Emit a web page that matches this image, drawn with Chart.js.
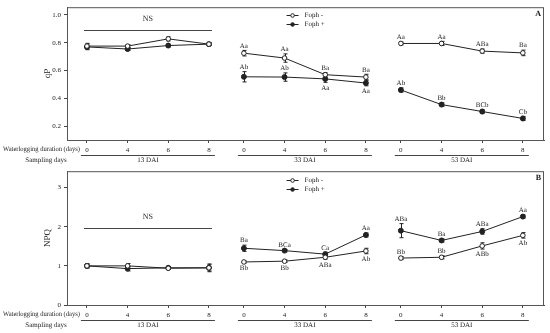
<!DOCTYPE html>
<html>
<head>
<meta charset="utf-8">
<script src="https://cdn.jsdelivr.net/npm/chart.js@4/dist/chart.umd.min.js"></script>
<style>
body{margin:0;background:#fff;}
#wrap{position:relative;width:550px;height:333px;}
canvas{position:absolute;left:0;}
</style>
</head>
<body>
<div id="wrap">
<canvas id="chartA" width="550" height="164" style="top:0"></canvas>
<canvas id="chartB" width="550" height="169" style="top:164px"></canvas>
</div>
<script>
const days = ['0', '4', '6', '8'];
const samplings = ['13 DAI', '33 DAI', '53 DAI'];
const seriesNames = ['Foph -', 'Foph +'];

// panel A: qP
const qpMinus = [[0.776, 0.776, 0.828, 0.79], [0.725, 0.69, 0.57, 0.553], [0.795, 0.795, 0.74, 0.727]];
const qpMinusErr = [[0.02, 0.01, 0.015, 0.01], [0.02, 0.03, 0.015, 0.02], [0.01, 0.015, 0.015, 0.02]];
const qpPlus = [[0.77, 0.755, 0.78, 0.79], [0.555, 0.553, 0.54, 0.51], [0.46, 0.355, 0.305, 0.255]];
const qpPlusErr = [[0.02, 0.01, 0.01, 0.01], [0.037, 0.03, 0.025, 0.02], [0.015, 0.012, 0.015, 0.015]];
const qpMinusLetters = [null, ['Aa', 'Aa', 'Ba', 'Ba'], ['Aa', 'Aa', 'ABa', 'Ba']];
const qpPlusLetters = [null, ['Ab', 'Ab', 'Aa', 'Aa'], ['Ab', 'Bb', 'BCb', 'Cb']];
const qpMinusSide = [null, [1, 1, 1, 1], [1, 1, 1, 1]];
const qpPlusSide = [null, [1, 1, -1, -1], [1, 1, 1, 1]];
const qpTicks = [0.2, 0.4, 0.6, 0.8, 1.0];

// panel B: NPQ
const npqMinus = [[1.0, 1.0, 0.94, 0.95], [1.10, 1.12, 1.22, 1.38], [1.20, 1.22, 1.51, 1.78]];
const npqMinusErr = [[0.05, 0.06, 0.03, 0.1], [0.03, 0.03, 0.05, 0.07], [0.04, 0.04, 0.08, 0.07]];
const npqPlus = [[1.0, 0.93, 0.95, 0.95], [1.45, 1.39, 1.30, 1.79], [1.90, 1.65, 1.88, 2.26]];
const npqPlusErr = [[0.05, 0.06, 0.03, 0.08], [0.08, 0.03, 0.05, 0.05], [0.18, 0.04, 0.07, 0.04]];
const npqMinusLetters = [null, ['Bb', 'Bb', 'ABa', 'Ab'], ['Bb', 'Bb', 'ABb', 'Ab']];
const npqPlusLetters = [null, ['Ba', 'BCa', 'Ca', 'Aa'], ['ABa', 'Ba', 'ABa', 'Aa']];
const npqMinusSide = [null, [-1, -1, -1, -1], [1, 1, -1, -1]];
const npqPlusSide = [null, [1, 1, 1, 1], [1, 1, 1, 1]];
const npqTicks = [0, 1, 2, 3];

const serif = '"Liberation Serif", "DejaVu Serif", serif';
const ink = '#222';
const groupStep = 3.86;
function xPos(g, i) { return g * groupStep + i; }
const xTickVals = [];
samplings.forEach((s, g) => days.forEach((d, i) => xTickVals.push(xPos(g, i))));

function seriesPoints(vals) {
  const pts = [];
  vals.forEach((row, g) => {
    row.forEach((v, i) => pts.push({x: xPos(g, i), y: v}));
    if (g < vals.length - 1) pts.push({x: xPos(g, 3) + 0.4, y: null});
  });
  return pts;
}

function extras(p) {
  return {
    id: 'extras',
    beforeDatasetsDraw(chart) {
      const {ctx, scales: {x, y}} = chart;
      ctx.save();
      ctx.strokeStyle = ink; ctx.lineWidth = 1;
      [[p.minus, p.minusErr], [p.plus, p.plusErr]].forEach(([vals, errs]) => {
        vals.forEach((row, g) => row.forEach((v, i) => {
          const px = Math.round(x.getPixelForValue(xPos(g, i))) + 0.5;
          const y1 = y.getPixelForValue(v + errs[g][i]);
          const y2 = y.getPixelForValue(v - errs[g][i]);
          ctx.beginPath();
          ctx.moveTo(px, y1); ctx.lineTo(px, y2);
          ctx.moveTo(px - 2, y1); ctx.lineTo(px + 2, y1);
          ctx.moveTo(px - 2, y2); ctx.lineTo(px + 2, y2);
          ctx.stroke();
        }));
      });
      ctx.restore();
    },
    afterDraw(chart) {
      const {ctx, chartArea: a, scales: {x, y}} = chart;
      ctx.save();
      ctx.textRendering = 'geometricPrecision';
      // frame
      ctx.strokeStyle = '#555'; ctx.lineWidth = 1;
      ctx.strokeRect(a.left + 0.5, a.top + 0.5, a.right - a.left - 1, a.bottom - a.top);

      ctx.fillStyle = ink;
      ctx.textAlign = 'center';
      // significance letters
      ctx.font = '7px ' + serif;
      [[p.minus, p.minusErr, p.minusLetters, p.minusSide], [p.plus, p.plusErr, p.plusLetters, p.plusSide]].forEach(([vals, errs, letters, side]) => {
        letters.forEach((row, g) => {
          if (!row) return;
          row.forEach((txt, i) => {
            const px = x.getPixelForValue(xPos(g, i));
            if (side[g][i] > 0) {
              ctx.textBaseline = 'bottom';
              ctx.fillText(txt, px, y.getPixelForValue(vals[g][i] + errs[g][i]) - 1);
            } else {
              ctx.textBaseline = 'top';
              ctx.fillText(txt, px, y.getPixelForValue(vals[g][i] - errs[g][i]) + 2);
            }
          });
        });
      });

      // NS over first group
      const nsL = x.getPixelForValue(xPos(0, 0)) - 3, nsR = x.getPixelForValue(xPos(0, 3)) + 3;
      const nsY = Math.round(y.getPixelForValue(p.nsValue)) + 0.5;
      ctx.strokeStyle = '#444';
      ctx.beginPath(); ctx.moveTo(nsL, nsY); ctx.lineTo(nsR, nsY); ctx.stroke();
      ctx.font = '8px ' + serif; ctx.textBaseline = 'middle';
      ctx.fillText('NS', (nsL + nsR) / 2, nsY - 12);

      // legend
      const lx = x.getPixelForValue(xPos(1, 1)) + 8;
      seriesNames.forEach((name, s) => {
        const ly = Math.round(a.top + p.legendTop + s * 9.5) + 0.5;
        ctx.strokeStyle = ink;
        ctx.beginPath(); ctx.moveTo(lx - 6, ly); ctx.lineTo(lx + 6, ly); ctx.stroke();
        ctx.beginPath(); ctx.arc(lx, ly, 1.8, 0, Math.PI * 2);
        ctx.fillStyle = s ? ink : '#fff'; ctx.fill(); ctx.stroke();
        ctx.fillStyle = ink; ctx.textAlign = 'left'; ctx.font = '7px ' + serif;
        ctx.fillText(name, lx + 12, ly);
      });

      // panel letter
      ctx.font = 'bold 8px ' + serif; ctx.textAlign = 'right'; ctx.textBaseline = 'middle';
      ctx.fillText(p.panel, a.right - 3, a.top + 7);

      // y title
      ctx.save();
      ctx.translate(48, (a.top + a.bottom) / 2);
      ctx.rotate(-Math.PI / 2);
      ctx.textAlign = 'center'; ctx.font = '9px ' + serif;
      ctx.fillText(p.yTitle, 0, 0);
      ctx.restore();

      // x rows
      ctx.font = '7px ' + serif; ctx.textBaseline = 'middle';
      ctx.textAlign = 'left';
      ctx.fillText('Waterlogging duration (days)', 3, a.bottom + 9.5, 77);
      ctx.textAlign = 'center';
      ctx.fillText('Sampling days', 46, a.bottom + 20);
      samplings.forEach((s, g) => {
        const l = x.getPixelForValue(xPos(g, 0)) - 6, r = x.getPixelForValue(xPos(g, 3)) + 6;
        const ly = a.bottom + 15.5;
        ctx.strokeStyle = '#444';
        ctx.beginPath(); ctx.moveTo(l, ly); ctx.lineTo(r, ly); ctx.stroke();
        ctx.fillText(s, (l + r) / 2, a.bottom + 20);
      });
      ctx.restore();
    }
  };
}

function makePanel(id, p) {
  new Chart(document.getElementById(id), {
    type: 'line',
    data: {
      datasets: [
        {label: seriesNames[0], data: seriesPoints(p.minus), borderColor: ink, borderWidth: 1,
         pointBackgroundColor: '#fff', pointBorderColor: ink, pointRadius: 2.3, pointBorderWidth: 1, spanGaps: false},
        {label: seriesNames[1], data: seriesPoints(p.plus), borderColor: ink, borderWidth: 1,
         pointBackgroundColor: ink, pointBorderColor: ink, pointRadius: 2.5, pointBorderWidth: 1, spanGaps: false}
      ]
    },
    options: {
      responsive: false,
      animation: false,
      layout: {padding: {top: p.padTop, right: 6, left: 0, bottom: 0}},
      plugins: {legend: {display: false}, tooltip: {enabled: false}},
      scales: {
        x: {
          type: 'linear', min: -0.49, max: 11.24,
          afterFit(scale) { scale.height = p.xHeight; },
          afterBuildTicks(scale) { scale.ticks = xTickVals.map(v => ({value: v})); },
          grid: {drawOnChartArea: false, tickLength: 3, color: '#444'},
          border: {color: '#444'},
          ticks: {autoSkip: false, maxRotation: 0, padding: 3, color: ink,
                  font: {family: serif, size: 7},
                  callback: (v, i) => days[i % days.length]}
        },
        y: {
          min: p.yMin, max: p.yMax,
          afterFit(scale) { scale.width = 67; },
          afterBuildTicks(scale) { scale.ticks = p.yTicks.map(v => ({value: v})); },
          grid: {drawOnChartArea: false, tickLength: 3, color: '#444'},
          border: {color: '#444'},
          ticks: {padding: 3, color: ink, font: {family: serif, size: 7},
                  callback: v => p.yFmt(v)}
        }
      }
    },
    plugins: [extras(p)]
  });
}

makePanel('chartA', {
  minus: qpMinus, minusErr: qpMinusErr, plus: qpPlus, plusErr: qpPlusErr,
  minusLetters: qpMinusLetters, plusLetters: qpPlusLetters, minusSide: qpMinusSide, plusSide: qpPlusSide,
  yMin: 0.1, yMax: 1.056, yTicks: qpTicks, yFmt: v => v.toFixed(1),
  nsValue: 0.89, panel: 'A', yTitle: 'qP', legendTop: 7.7, padTop: 4, xHeight: 24
});
makePanel('chartB', {
  minus: npqMinus, minusErr: npqMinusErr, plus: npqPlus, plusErr: npqPlusErr,
  minusLetters: npqMinusLetters, plusLetters: npqPlusLetters, minusSide: npqMinusSide, plusSide: npqPlusSide,
  yMin: 0, yMax: 3.42, yTicks: npqTicks, yFmt: v => String(v),
  nsValue: 1.97, panel: 'B', yTitle: 'NPQ', legendTop: 8.3, padTop: 3, xHeight: 28
});
</script>
</body>
</html>
